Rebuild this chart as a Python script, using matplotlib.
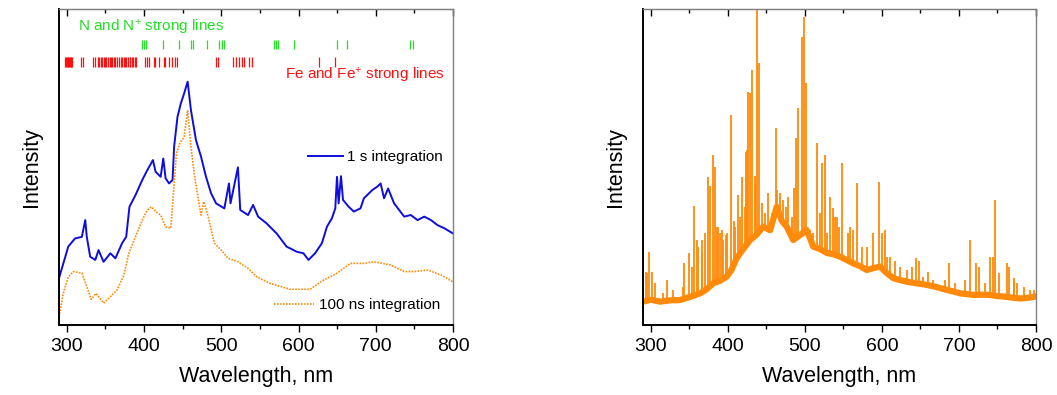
"""Two-panel emission spectra: averaged (1 s vs 100 ns integration) and single-shot."""

import matplotlib

matplotlib.use("Agg")
import matplotlib.pyplot as plt
from matplotlib.lines import Line2D
from matplotlib.ticker import MultipleLocator

plt.rcParams["font.family"] = ["Liberation Sans", "DejaVu Sans"]
plt.rcParams["mathtext.fontset"] = "custom"
plt.rcParams["mathtext.rm"] = "Liberation Sans"
plt.rcParams["mathtext.it"] = "Liberation Sans:italic"

# ---- left panel: time-integrated spectra (normalised intensity) ----
blue_w = [290, 302, 310.8, 319.6, 324, 326, 330.4, 337, 341.2, 347.7, 356.5, 363, 371.7,
          377, 381.2, 389, 397.8, 404.3, 411.6, 415, 421.6, 425, 428, 432.5, 437, 439,
          443.4, 447.7, 452, 456.5, 460.8, 467.3, 473.8, 480.3, 486.8, 493.3, 504, 510,
          512, 521.6, 524.6, 534.7, 541.2, 547.7, 558.5, 571.6, 584.6, 597.6, 606.4,
          612.9, 621.5, 630.3, 636.8, 643.3, 647.6, 649.8, 651.9, 655, 657.6, 665, 671.6,
          680.2, 684.6, 695.5, 702, 706.3, 710.7, 716, 723.7, 736.8, 745.4, 754, 762.8,
          771.4, 780, 788.9, 799.7]
blue_v = [0.148, 0.248, 0.274, 0.279, 0.332, 0.279, 0.216, 0.206, 0.237, 0.200, 0.227,
          0.211, 0.259, 0.279, 0.374, 0.411, 0.459, 0.490, 0.522, 0.485, 0.469, 0.527,
          0.464, 0.448, 0.459, 0.564, 0.659, 0.701, 0.733, 0.770, 0.680, 0.585, 0.533,
          0.469, 0.417, 0.385, 0.369, 0.448, 0.385, 0.499, 0.364, 0.348, 0.380, 0.343,
          0.322, 0.290, 0.248, 0.232, 0.227, 0.206, 0.227, 0.259, 0.311, 0.338, 0.369,
          0.469, 0.385, 0.471, 0.396, 0.374, 0.359, 0.369, 0.401, 0.427, 0.438, 0.448,
          0.401, 0.432, 0.385, 0.343, 0.348, 0.332, 0.343, 0.332, 0.316, 0.306, 0.290]

orange_w = [290, 295.6, 302, 308.7, 319.6, 326, 331.7, 337.8, 341.3, 347.7, 356.5, 365.2,
            373.9, 380.4, 389, 397.8, 404.3, 409.5, 415, 421.6, 428, 434.7, 437.8, 442,
            446.4, 452, 456.5, 460.8, 465, 469.5, 473.8, 477.3, 482.4, 491.2, 500, 508.7,
            521.6, 534.7, 545.6, 562.8, 588.9, 615, 632.4, 649.8, 667.2, 684.6, 697.6,
            719.3, 736.8, 749.8, 767.2, 784.6, 799.7]
orange_v = [0.026, 0.100, 0.153, 0.169, 0.164, 0.121, 0.081, 0.100, 0.090, 0.069, 0.090,
            0.111, 0.158, 0.227, 0.279, 0.332, 0.364, 0.374, 0.359, 0.348, 0.311, 0.306,
            0.406, 0.543, 0.575, 0.596, 0.680, 0.564, 0.480, 0.411, 0.348, 0.390, 0.350,
            0.259, 0.237, 0.211, 0.200, 0.179, 0.153, 0.132, 0.113, 0.113, 0.142, 0.164,
            0.195, 0.195, 0.200, 0.190, 0.169, 0.169, 0.174, 0.158, 0.137]

n_lines = [397, 400, 403, 424.7, 445.5, 460.8, 463, 481.6, 497.7, 500.8, 504.2, 568.5,
           570.7, 572.9, 594.6, 649.8, 662.8, 744.6, 747.6]
fe_lines = [298.4, 299.4, 300.3, 301.6, 302.1, 303.0, 304.1, 305.0, 306.0, 307.0, 318.2,
            321.2, 334.3, 336.5, 339.9, 341.7, 344.3, 346.0, 347.8, 349.5, 351.3, 353.5,
            355.5, 357.0, 358.6, 360.9, 363.1, 364.8, 367.3, 370.0, 371.9, 373.6, 374.8,
            376.5, 379.5, 381.6, 382.5, 384.0, 385.9, 388.6, 390.3, 400.8, 403.8, 406.9,
            412.5, 414.7, 419.0, 425.6, 427.8, 432.0, 436.4, 440.8, 442.9, 493.0, 496.0,
            514.6, 519.0, 523.3, 526.9, 529.9, 536.4, 539.9, 626.0, 646.8]

# ---- right panel: single-shot spectrum, continuum + emission lines ----
base_w = [290, 300, 312, 325, 338, 350, 364, 372, 381, 390, 398.7, 405, 411.7, 420, 429,
          437, 446, 455, 463.6, 470, 476.6, 485, 494, 502.6, 511, 520, 528.6, 537, 546,
          555, 563, 572, 580.5, 589, 597.8, 606, 615, 624, 632.5, 645, 658.4, 671, 684.4,
          693, 701.7, 710, 719, 730, 740.6, 749, 758, 768, 779.6, 790, 799]
base_v = [0.074, 0.080, 0.074, 0.078, 0.079, 0.088, 0.100, 0.112, 0.132, 0.140, 0.153,
          0.175, 0.212, 0.240, 0.269, 0.285, 0.311, 0.300, 0.374, 0.330, 0.311, 0.269,
          0.285, 0.300, 0.248, 0.240, 0.228, 0.224, 0.216, 0.205, 0.195, 0.186, 0.174,
          0.180, 0.185, 0.165, 0.148, 0.142, 0.137, 0.132, 0.127, 0.120, 0.111, 0.106,
          0.100, 0.098, 0.095, 0.096, 0.095, 0.092, 0.090, 0.087, 0.084, 0.086, 0.090]

peak_w = [293.8, 297.8, 302.0, 321.6, 343.7, 356.2, 361.8, 366.0, 374.0, 376.4, 381.3,
          384.0, 387.8, 392.0, 397.8, 403.9, 408.0, 413.8, 419.0, 424.6, 426.0, 429.4,
          432.0, 434.9, 437.7, 441.0, 444.2, 452.0, 462.3, 468.0, 478.0, 486.5, 488.7,
          490.9, 496.9, 499.5, 501.7, 515.6, 522.0, 526.4, 532.9, 537.2, 541.5, 548.8,
          558.8, 567.9, 574.0, 589.0, 596.0, 604.3, 610.8, 623.8, 644.5, 647.6, 660.5,
          687.4, 714.7, 722.5, 744.1, 746.3, 762.3, 772.0, 775.3,
          350.1, 353.2, 359.7, 366.2, 370.5, 385.7, 390.0, 394.3, 399.5, 409.5, 416.0,
          422.5, 423.8, 435.5, 448.4, 457.1, 463.6, 472.2, 475.3, 483.1, 506.9, 511.2,
          519.9, 528.6, 539.4, 544.5, 556.6, 563.1, 580.5, 600.0, 606.5, 617.3, 632.5,
          639.0, 654.0, 667.0, 682.2, 695.2, 708.2, 725.5, 734.2, 740.6, 751.4, 764.4,
          770.9, 783.9, 792.6, 796.9, 294.8, 305.6, 316.4, 329.4, 342.3]
peak_top = [0.169, 0.232, 0.169, 0.142, 0.195, 0.377, 0.248, 0.270, 0.469, 0.440, 0.538,
            0.501, 0.311, 0.300, 0.285, 0.665, 0.330, 0.411, 0.469, 0.554, 0.738, 0.733,
            0.807, 0.470, 1.020, 0.828, 0.386, 0.417, 0.622, 0.417, 0.406, 0.432, 0.591,
            0.686, 0.912, 0.976, 0.765, 0.577, 0.512, 0.538, 0.406, 0.369, 0.343, 0.512,
            0.311, 0.448, 0.248, 0.290, 0.454, 0.300, 0.216, 0.185, 0.211, 0.204, 0.169,
            0.195, 0.269, 0.195, 0.216, 0.396, 0.195, 0.150, 0.132,
            0.227, 0.185, 0.269, 0.227, 0.290, 0.311, 0.290, 0.269, 0.290, 0.311, 0.343,
            0.375, 0.548, 0.448, 0.353, 0.353, 0.427, 0.396, 0.375, 0.343, 0.301, 0.290,
            0.353, 0.290, 0.343, 0.311, 0.290, 0.301, 0.248, 0.290, 0.216, 0.204, 0.174,
            0.185, 0.153, 0.142, 0.142, 0.132, 0.142, 0.185, 0.132, 0.216, 0.164, 0.185,
            0.142, 0.121, 0.110, 0.110, 0.164, 0.132, 0.100, 0.111, 0.121]
peak_foot = [0.074, 0.074, 0.074, 0.075, 0.085, 0.095, 0.100, 0.110, 0.120, 0.125, 0.132,
             0.135, 0.140, 0.145, 0.150, 0.170, 0.190, 0.215, 0.235, 0.250, 0.260, 0.270,
             0.280, 0.285, 0.290, 0.300, 0.310, 0.305, 0.360, 0.350, 0.300, 0.270, 0.275,
             0.280, 0.290, 0.300, 0.300, 0.240, 0.235, 0.230, 0.225, 0.222, 0.220, 0.214,
             0.200, 0.190, 0.180, 0.180, 0.184, 0.170, 0.155, 0.142, 0.132, 0.131, 0.126,
             0.110, 0.096, 0.095, 0.094, 0.093, 0.089, 0.086, 0.085,
             0.090, 0.092, 0.097, 0.103, 0.113, 0.137, 0.143, 0.148, 0.155, 0.200, 0.226,
             0.247, 0.250, 0.285, 0.308, 0.318, 0.370, 0.330, 0.315, 0.278, 0.275, 0.248,
             0.238, 0.228, 0.220, 0.217, 0.203, 0.195, 0.174, 0.180, 0.166, 0.147, 0.137,
             0.135, 0.128, 0.122, 0.112, 0.104, 0.098, 0.095, 0.095, 0.095, 0.092, 0.088,
             0.086, 0.085, 0.088, 0.089, 0.074, 0.074, 0.075, 0.077, 0.082]

BLUE = "#0d0de0"
ORANGE = "#ff8a0a"
GREEN = "#22e022"
RED = "#ff1010"


def style_axes(ax):
    ax.set_xlim(290, 800)
    ax.set_ylim(0, 1)
    ax.set_yticks([])
    ax.xaxis.set_major_locator(MultipleLocator(100))
    ax.xaxis.set_minor_locator(MultipleLocator(50))
    ax.tick_params(axis="x", which="major", direction="out", length=5, width=1,
                   labelsize=14, pad=4)
    ax.tick_params(axis="x", which="minor", direction="out", length=3, width=1)
    for side in ("left", "bottom"):
        ax.spines[side].set_linewidth(1.4)
        ax.spines[side].set_color("black")
    for side in ("top", "right"):
        ax.spines[side].set_linewidth(1.0)
        ax.spines[side].set_color("#808080")
    top = ax.secondary_xaxis("top")
    top.xaxis.set_major_locator(MultipleLocator(100))
    top.xaxis.set_minor_locator(MultipleLocator(50))
    top.tick_params(axis="x", which="major", direction="in", length=5, width=1, labeltop=False)
    top.tick_params(axis="x", which="minor", direction="in", length=3, width=1)
    top.spines["top"].set_color("#808080")
    ax.set_xlabel("Wavelength, nm", fontsize=15.5, labelpad=8)
    ax.set_ylabel("Intensity", fontsize=15.5, labelpad=12)


fig = plt.figure(figsize=(10.57, 3.95), dpi=100)
ax1 = fig.add_axes([0.0558, 0.1772, 0.3728, 0.800])
ax2 = fig.add_axes([0.6083, 0.1772, 0.3718, 0.800])

# left panel
l1, = ax1.plot(blue_w, blue_v, color=BLUE, lw=1.4)
l2, = ax1.plot(orange_w, orange_v, color=ORANGE, lw=1.2, linestyle=(0, (1, 0.8)))
ax1.vlines(n_lines, 0.873, 0.902, color=GREEN, lw=0.9)
ax1.vlines(fe_lines, 0.816, 0.848, color=RED, lw=0.9)
ax1.text(314.7, 0.943, "N and N$^{+}$ strong lines", color=GREEN, fontsize=11,
         ha="left", va="center")
ax1.text(789, 0.79, "Fe and Fe$^{+}$ strong lines", color=RED, fontsize=11,
         ha="right", va="center")

leg1 = ax1.legend([l1], ["1 s integration"], loc="center right", bbox_to_anchor=(0.975, 0.532),
                  frameon=False, fontsize=11, handlelength=2.3, handletextpad=0.3,
                  borderaxespad=0, borderpad=0)
ax1.add_artist(leg1)
ax1.legend([Line2D([], [], color=ORANGE, lw=1.2, linestyle=(0, (1, 0.8)))], ["100 ns integration"],
           loc="center right", bbox_to_anchor=(0.967, 0.063), frameon=False, fontsize=11,
           handlelength=2.6, handletextpad=0.3, borderaxespad=0, borderpad=0)
style_axes(ax1)

# right panel
ax2.plot(base_w, base_v, color=ORANGE, lw=4.5, solid_joinstyle="round")
ax2.vlines(peak_w, peak_foot, peak_top, color=ORANGE, lw=1.3)
style_axes(ax2)

fig.savefig("out.png", dpi=100)
